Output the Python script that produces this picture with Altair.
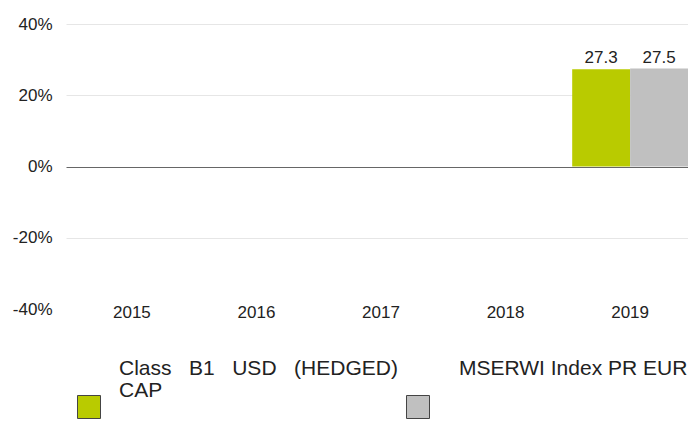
import altair as alt
import pandas as pd

years = ["2015", "2016", "2017", "2018", "2019"]
series = ["Class B1 USD (HEDGED) CAP", "MSERWI Index PR EUR"]
fund_values = [None, None, None, None, 27.3]
index_values = [None, None, None, None, 27.5]
colors = ["#b9cb00", "#c0c0c0"]
SP = "\u00a0\u00a0\u00a0"
legend_text = ["Class" + SP + "B1" + SP + "USD" + SP + "(HEDGED)\nCAP", "MSERWI Index PR EUR"]

rows = []
for y, a, b in zip(years, fund_values, index_values):
    if a is not None:
        rows.append({"year": y, "series": series[0], "value": a})
    if b is not None:
        rows.append({"year": y, "series": series[1], "value": b})
df = pd.DataFrame(rows)
leg = pd.DataFrame({"series": series, "label": legend_text})

FONT = "Liberation Sans"

x = alt.X("year:N", scale=alt.Scale(domain=years, range=[0, 630], paddingInner=0.07, paddingOuter=0.064),
          axis=alt.Axis(title=None, domain=False, ticks=False, labelAngle=0, labelPadding=-5,
                        labelFontSize=17, labelColor="#222", labelFont=FONT))
y = alt.Y("value:Q", scale=alt.Scale(domain=[-40, 40]),
          axis=alt.Axis(title=None, values=[-40, -20, 0, 20, 40], domain=False, ticks=False,
                        labelExpr="datum.value + '%'", labelPadding=14, labelFontSize=17,
                        labelColor="#222", labelFont=FONT,
                        gridColor={"condition": [{"test": "datum.value === 0", "value": "#666666"}],
                                   "value": "#e6e6e6"},
                        gridOpacity={"condition": [{"test": "datum.value < -39", "value": 0}],
                                     "value": 1}))
xo = alt.XOffset("series:N", scale=alt.Scale(domain=series, paddingInner=0, paddingOuter=0))

bars = alt.Chart(df).mark_bar().encode(
    x=x, xOffset=xo, y=y,
    color=alt.Color("series:N", scale=alt.Scale(domain=series, range=colors), legend=None),
)
labels = alt.Chart(df).mark_text(baseline="bottom", dy=-2, fontSize=17, font=FONT, color="#222").encode(
    x=x, xOffset=xo, y=y, text=alt.Text("value:Q", format=".1f")
)
main = alt.layer(bars, labels)

squares = alt.Chart(leg).mark_square(size=529, filled=True, stroke="#444", strokeWidth=1, opacity=1).encode(
    x=alt.X("series:N", scale=alt.Scale(domain=series, range=[23, 352], padding=0), axis=None),
    y=alt.value(383),
    color=alt.Color("series:N", scale=alt.Scale(domain=series, range=colors), legend=None),
)
texts = alt.Chart(leg).mark_text(align="left", baseline="top", lineBreak="\n", lineHeight=22,
                                 fontSize=21, font=FONT, color="#222").encode(
    x=alt.X("series:N", scale=alt.Scale(domain=series, range=[53, 393], padding=0), axis=None),
    y=alt.value(334),
    text="label:N",
)

chart = alt.layer(main, squares, texts).resolve_scale(x="independent").properties(
    width=622, height=285,
    autosize=alt.AutoSizeParams(type="none"),
    padding={"left": 58, "top": 16, "right": 0, "bottom": 110},
).configure_view(stroke=None)

chart.save("out.html", embed_options={"renderer": "svg", "actions": False})
